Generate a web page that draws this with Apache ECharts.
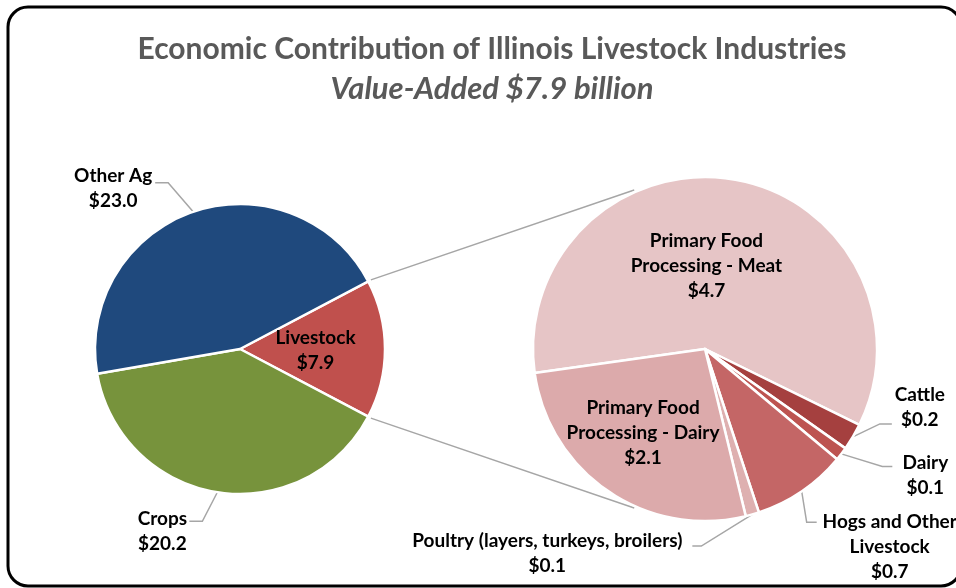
<!DOCTYPE html>
<html>
<head>
<meta charset="utf-8">
<title>Economic Contribution of Illinois Livestock Industries</title>
<script src="https://cdn.jsdelivr.net/npm/echarts@6/dist/echarts.min.js"></script>
<style>
  html, body { margin: 0; padding: 0; background: #fff; }
  #chart { width: 956px; height: 588px; }
</style>
</head>
<body>
<div id="chart"></div>
<script>
// values in $ billion
var mainNames = ['Livestock', 'Crops', 'Other Ag'];
var mainValues = [7.9, 20.2, 23.0];

var subNames = [
  'Primary Food\nProcessing - Meat',
  'Cattle',
  'Dairy',
  'Hogs and Other\nLivestock',
  'Poultry (layers, turkeys, broilers)',
  'Primary Food\nProcessing - Dairy'
];
var subValues = [4.7, 0.2, 0.1, 0.7, 0.1, 2.1];

var mainColors = ['#C0504D', '#77933C', '#1F497D'];
var subColors = ['#E6C5C6', '#A5403F', '#BD5451', '#C46666', '#DEB0B0', '#DCAAAB'];

var FONT = 'Lato, "Open Sans", sans-serif';
var mainCenter = [240, 349], mainR = 145;
var subCenter = [705, 349], subR = 172;

function sum(arr) {
  var s = 0;
  for (var i = 0; i < arr.length; i++) s += arr[i];
  return s;
}

function polar(c, r, deg) {
  var a = deg * Math.PI / 180;
  return [c[0] + r * Math.cos(a), c[1] - r * Math.sin(a)];
}

// livestock slice is centred on the right side of the first pie
var mainStart = mainValues[0] / sum(mainValues) * 180;

// label nudges, like excel's hand placed labels
// line: [leader dx, leader dy, horizontal part], text: offset of the label centre from the line end
var mainLabelMove = {
  0: { inside: [0, 1] },
  1: { line: [-15, 29, -13], text: [-27, 10] },
  2: { line: [-25, -29, -13], text: [-42, 5.5] }
};
var subLabelMove = {
  0: { inside: [-12.6, 4.5] },
  1: { line: [27, -13, 12], text: [28, -17] },
  2: { line: [41, 12.6, 10], text: [33, 8.5] },
  3: { line: [5, 31, 10], text: [73, 25] },
  4: { line: [-51, 31.7, -9], text: [-145, 7.5] },
  5: { inside: [-12, 10] }
};

function makeLayout(moves) {
  return function (params) {
    var m = moves[params.dataIndex];
    var r = params.labelRect;
    if (!m) return {};
    if (m.inside) {
      return {
        x: r.x + r.width / 2 + m.inside[0],
        y: r.y + r.height / 2 + m.inside[1],
        align: 'center',
        verticalAlign: 'middle'
      };
    }
    var p1 = params.labelLinePoints[0];
    var p2 = [p1[0] + m.line[0], p1[1] + m.line[1]];
    var p3 = [p2[0] + m.line[2], p2[1]];
    return {
      x: p3[0] + m.text[0],
      y: p3[1] + m.text[1],
      align: 'center',
      verticalAlign: 'middle',
      labelLinePoints: [p1, p2, p3]
    };
  };
}

function buildData(names, values, colors, insideIdx) {
  var out = [];
  for (var i = 0; i < names.length; i++) {
    var inside = insideIdx.indexOf(i) >= 0;
    out.push({
      name: names[i],
      value: values[i],
      itemStyle: { color: colors[i] },
      label: { position: inside ? 'inside' : 'outside' },
      labelLine: { show: !inside }
    });
  }
  return out;
}

var labelStyle = {
  fontFamily: FONT,
  fontSize: 19,
  fontWeight: 'bold',
  color: '#000',
  lineHeight: 25,
  formatter: function (p) {
    return p.name + '\n$' + p.value.toFixed(1);
  }
};

var lineStyle = { color: '#A6A6A6', width: 1.5 };

var upA = polar(mainCenter, mainR + 3, mainStart);
var upB = polar(subCenter, subR + 2, 114);
var lowA = polar(mainCenter, mainR + 3, -mainStart);
var lowB = polar(subCenter, subR + 2, -114);

var myChart = echarts.init(document.getElementById('chart'));

var option = {
  backgroundColor: '#fff',
  animation: false,
  title: [{
    text: 'Economic Contribution of Illinois Livestock Industries',
    left: 487,
    top: 29,
    textAlign: 'center',
    textStyle: { fontFamily: FONT, fontSize: 30, fontWeight: 'bold', color: '#595959' }
  }, {
    text: 'Value-Added $7.9 billion',
    left: 487,
    top: 68,
    textAlign: 'center',
    textStyle: { fontFamily: FONT, fontSize: 31, fontWeight: 'bold', fontStyle: 'italic', color: '#595959' }
  }],
  graphic: [{
    type: 'rect',
    silent: true,
    shape: { x: 8, y: 7, width: 953, height: 579, r: 20 },
    style: { fill: 'none', stroke: '#000', lineWidth: 3 }
  }, {
    type: 'line',
    silent: true,
    shape: { x1: upA[0], y1: upA[1], x2: upB[0], y2: upB[1] },
    style: { stroke: '#A6A6A6', lineWidth: 1.5 }
  }, {
    type: 'line',
    silent: true,
    shape: { x1: lowA[0], y1: lowA[1], x2: lowB[0], y2: lowB[1] },
    style: { stroke: '#A6A6A6', lineWidth: 1.5 }
  }],
  series: [{
    type: 'pie',
    center: mainCenter,
    radius: mainR,
    startAngle: mainStart,
    clockwise: true,
    avoidLabelOverlap: false,
    itemStyle: { borderColor: '#fff', borderWidth: 2.5 },
    label: labelStyle,
    labelLine: { lineStyle: lineStyle },
    labelLayout: makeLayout(mainLabelMove),
    emphasis: { disabled: true },
    data: buildData(mainNames, mainValues, mainColors, [0])
  }, {
    type: 'pie',
    center: subCenter,
    radius: subR,
    startAngle: 188,
    clockwise: true,
    avoidLabelOverlap: false,
    itemStyle: { borderColor: '#fff', borderWidth: 2.5 },
    label: labelStyle,
    labelLine: { lineStyle: lineStyle },
    labelLayout: makeLayout(subLabelMove),
    emphasis: { disabled: true },
    data: buildData(subNames, subValues, subColors, [0, 5])
  }]
};

myChart.setOption(option);
</script>
</body>
</html>
